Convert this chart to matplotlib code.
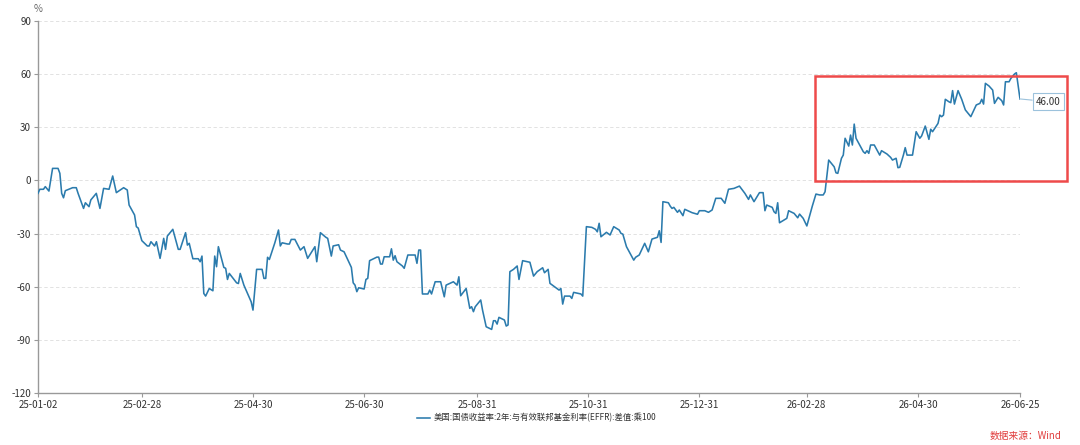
import matplotlib
matplotlib.use("Agg")
import matplotlib.pyplot as plt
import matplotlib.dates as mdates
from matplotlib.patches import Rectangle
import pandas as pd

plt.rcParams['font.family'] = ['Noto Sans CJK SC', 'DejaVu Sans']
plt.rcParams['axes.unicode_minus'] = False

series_name = "美国:国债收益率:2年:与有效联邦基金利率(EFFR):差值:乘100"
source_text = "数据来源：Wind"
unit_label = "%"

dates_2025 = [
    "2025-01-02", "2025-01-03", "2025-01-05", "2025-01-06", "2025-01-08", "2025-01-10",
    "2025-01-13", "2025-01-14", "2025-01-15", "2025-01-16", "2025-01-17", "2025-01-21",
    "2025-01-23", "2025-01-24", "2025-01-27", "2025-01-28", "2025-01-30", "2025-01-31",
    "2025-02-03", "2025-02-05", "2025-02-07", "2025-02-10", "2025-02-12", "2025-02-14",
    "2025-02-18", "2025-02-20", "2025-02-21", "2025-02-24", "2025-02-25", "2025-02-26",
    "2025-02-28", "2025-03-03", "2025-03-04", "2025-03-05", "2025-03-07", "2025-03-08",
    "2025-03-10", "2025-03-12", "2025-03-13", "2025-03-14", "2025-03-17", "2025-03-20",
    "2025-03-21", "2025-03-24", "2025-03-25", "2025-03-26", "2025-03-28", "2025-03-31",
    "2025-04-01", "2025-04-02", "2025-04-03", "2025-04-04", "2025-04-06", "2025-04-08",
    "2025-04-09", "2025-04-10", "2025-04-11", "2025-04-14", "2025-04-15", "2025-04-16",
    "2025-04-17", "2025-04-21", "2025-04-22", "2025-04-23", "2025-04-25", "2025-04-29",
    "2025-04-30", "2025-05-02", "2025-05-05", "2025-05-06", "2025-05-07", "2025-05-08",
    "2025-05-09", "2025-05-12", "2025-05-14", "2025-05-15", "2025-05-16", "2025-05-19",
    "2025-05-20", "2025-05-21", "2025-05-23", "2025-05-26", "2025-05-28", "2025-05-30",
    "2025-06-03", "2025-06-04", "2025-06-06", "2025-06-09", "2025-06-10", "2025-06-12",
    "2025-06-13", "2025-06-16", "2025-06-17", "2025-06-19", "2025-06-23", "2025-06-24",
    "2025-06-25", "2025-06-26", "2025-06-27", "2025-06-30", "2025-07-01", "2025-07-02",
    "2025-07-03", "2025-07-07", "2025-07-08", "2025-07-09", "2025-07-10", "2025-07-11",
    "2025-07-14", "2025-07-15", "2025-07-16", "2025-07-17", "2025-07-18", "2025-07-21",
    "2025-07-22", "2025-07-24", "2025-07-28", "2025-07-29", "2025-07-30", "2025-07-31",
    "2025-08-01", "2025-08-04", "2025-08-05", "2025-08-06", "2025-08-08", "2025-08-11",
    "2025-08-13", "2025-08-14", "2025-08-18", "2025-08-20", "2025-08-21", "2025-08-22",
    "2025-08-25", "2025-08-27", "2025-08-28", "2025-08-29", "2025-08-30", "2025-09-02",
    "2025-09-03", "2025-09-05", "2025-09-08", "2025-09-09", "2025-09-10", "2025-09-11",
    "2025-09-12", "2025-09-15", "2025-09-16", "2025-09-17", "2025-09-18", "2025-09-20",
    "2025-09-22", "2025-09-23", "2025-09-25", "2025-09-29", "2025-10-01", "2025-10-03",
    "2025-10-06", "2025-10-07", "2025-10-09", "2025-10-10", "2025-10-15", "2025-10-16",
    "2025-10-17", "2025-10-18", "2025-10-21", "2025-10-22", "2025-10-23", "2025-10-27",
    "2025-10-28", "2025-10-30", "2025-11-02", "2025-11-04", "2025-11-05", "2025-11-06",
    "2025-11-07", "2025-11-10", "2025-11-12", "2025-11-14", "2025-11-17", "2025-11-18",
    "2025-11-19", "2025-11-21", "2025-11-25", "2025-11-26", "2025-11-28", "2025-12-01",
    "2025-12-03", "2025-12-05", "2025-12-08", "2025-12-09", "2025-12-10", "2025-12-11",
    "2025-12-14", "2025-12-15", "2025-12-16", "2025-12-17", "2025-12-19", "2025-12-20",
    "2025-12-22", "2025-12-23", "2025-12-27", "2025-12-30", "2025-12-31",
]
values_2025 = [
    -7.3, -5.0, -5.0, -3.5, -6.0, 6.8,
    6.8, 4.0, -7.3, -9.8, -5.8, -4.1,
    -4.1, -7.3, -15.8, -12.6, -14.8, -11.0,
    -7.3, -15.8, -4.5, -5.0, 2.5, -6.9,
    -4.1, -5.4, -13.9, -19.5, -26.1, -26.9,
    -34.0, -37.0, -37.0, -34.6, -37.0, -34.6,
    -44.0, -32.7, -38.9, -31.4, -27.6, -38.9,
    -38.9, -29.5, -36.5, -35.5, -44.2, -44.2,
    -45.9, -42.7, -63.8, -65.3, -61.0, -62.3,
    -42.7, -48.7, -37.4, -49.1, -49.6, -55.9,
    -52.5, -57.8, -58.2, -52.5, -59.1, -68.5,
    -73.2, -50.2, -50.2, -55.3, -55.3, -43.4,
    -44.6, -35.2, -28.0, -37.0, -35.2, -35.9,
    -35.9, -33.3, -33.3, -39.3, -37.4, -44.0,
    -37.4, -45.9, -29.5, -32.1, -32.7, -42.7,
    -37.0, -36.3, -39.3, -40.3, -49.1, -57.8,
    -59.1, -62.8, -60.6, -61.3, -55.9, -55.3,
    -45.3, -43.3, -43.3, -47.2, -47.2, -43.1,
    -43.1, -38.6, -45.0, -42.5, -45.9, -48.3,
    -49.6, -42.1, -42.1, -46.8, -39.3, -39.3,
    -64.1, -64.1, -61.9, -64.1, -57.2, -57.2,
    -65.7, -59.1, -57.2, -59.1, -54.4, -65.1,
    -61.0, -72.2, -71.3, -74.1, -71.3, -67.5,
    -73.2, -82.6, -84.1, -79.2, -79.2, -81.1,
    -77.3, -78.8, -82.2, -81.6, -51.5, -50.2,
    -48.3, -55.9, -45.3, -46.2, -54.0, -51.5,
    -49.3, -52.1, -50.2, -58.1, -61.9, -61.0,
    -69.8, -65.3, -65.3, -66.6, -63.2, -64.1,
    -65.3, -26.1, -26.5, -27.6, -29.0, -24.2,
    -31.8, -29.3, -30.8, -26.1, -28.0, -29.9,
    -30.3, -37.4, -45.0, -43.4, -42.1, -35.5,
    -40.3, -33.1, -32.1, -28.4, -35.0, -12.0,
    -12.6, -14.5, -15.8, -15.2, -18.0, -16.7,
    -19.9, -16.3, -18.2, -19.1, -17.1,
]

dates_2026 = [
    "2026-01-03", "2026-01-05", "2026-01-07", "2026-01-09", "2026-01-12", "2026-01-14",
    "2026-01-16", "2026-01-19", "2026-01-22", "2026-01-25", "2026-01-27", "2026-01-28",
    "2026-01-30", "2026-02-02", "2026-02-04", "2026-02-05", "2026-02-06", "2026-02-09",
    "2026-02-10", "2026-02-11", "2026-02-12", "2026-02-13", "2026-02-17", "2026-02-18",
    "2026-02-21", "2026-02-23", "2026-02-24", "2026-02-26", "2026-02-28", "2026-03-03",
    "2026-03-05", "2026-03-07", "2026-03-09", "2026-03-10", "2026-03-12", "2026-03-15",
    "2026-03-16", "2026-03-17", "2026-03-19", "2026-03-20", "2026-03-21", "2026-03-23",
    "2026-03-24", "2026-03-25", "2026-03-26", "2026-03-27", "2026-03-31", "2026-04-01",
    "2026-04-02", "2026-04-03", "2026-04-04", "2026-04-06", "2026-04-09", "2026-04-10",
    "2026-04-13", "2026-04-15", "2026-04-16", "2026-04-18", "2026-04-19", "2026-04-20",
    "2026-04-22", "2026-04-23", "2026-04-24", "2026-04-27", "2026-04-29", "2026-05-01",
    "2026-05-02", "2026-05-04", "2026-05-06", "2026-05-07", "2026-05-08", "2026-05-11",
    "2026-05-12", "2026-05-13", "2026-05-14", "2026-05-15", "2026-05-17", "2026-05-18",
    "2026-05-19", "2026-05-20", "2026-05-22", "2026-05-24", "2026-05-26", "2026-05-29",
    "2026-06-01", "2026-06-03", "2026-06-04", "2026-06-05", "2026-06-06", "2026-06-08",
    "2026-06-10", "2026-06-11", "2026-06-13", "2026-06-15", "2026-06-16", "2026-06-17",
    "2026-06-19", "2026-06-20", "2026-06-22", "2026-06-23", "2026-06-25",
]
values_2026 = [
    -17.1, -18.0, -16.7, -10.1, -10.1, -12.9,
    -5.0, -4.5, -3.2, -7.3, -10.7, -8.2,
    -12.0, -6.9, -6.9, -17.1, -13.9, -15.2,
    -17.7, -18.6, -12.6, -23.9, -21.4, -17.1,
    -18.6, -21.1, -19.0, -21.4, -25.7, -14.5,
    -7.7, -8.2, -8.2, -6.4, 11.5, 7.7,
    4.3, 4.0, 12.5, 14.3, 23.8, 19.4,
    25.6, 20.0, 31.8, 23.8, 16.2, 15.3,
    16.8, 15.3, 20.0, 20.0, 14.3, 16.8,
    14.9, 13.0, 11.5, 12.5, 7.2, 7.4,
    14.3, 18.5, 14.3, 14.3, 27.5, 23.8,
    25.1, 30.7, 23.2, 28.9, 27.5, 32.2,
    36.9, 36.0, 36.9, 45.8, 44.4, 43.9,
    50.7, 43.1, 50.7, 45.8, 39.8, 36.0,
    42.6, 43.5, 45.8, 43.1, 54.8, 53.3,
    51.0, 43.5, 46.9, 45.0, 42.6, 55.7,
    55.7, 57.6, 60.1, 60.8, 46.0,
]

x_ticks = ["2025-01-02", "2025-02-28", "2025-04-30", "2025-06-30", "2025-08-31",
           "2025-10-31", "2025-12-31", "2026-02-28", "2026-04-30", "2026-06-25"]
y_ticks = [-120, -90, -60, -30, 0, 30, 60, 90]
last_label = "46.00"

dates = pd.to_datetime(dates_2025 + dates_2026)
values = values_2025 + values_2026

W, H = 1080, 445
fig = plt.figure(figsize=(W / 100, H / 100), dpi=100)
ax = fig.add_axes([38 / W, 1 - 393 / H, (1020 - 38) / W, (393 - 21) / H])

line_color = "#2b7bad"
ax.plot(dates, values, color=line_color, lw=1.15, label=series_name, zorder=3)

xt = pd.to_datetime(x_ticks)
ax.set_xlim(xt[0], xt[-1])
ax.set_ylim(y_ticks[0], y_ticks[-1])
ax.set_xticks(xt)
ax.set_xticklabels([d.strftime("%y-%m-%d") for d in xt])
ax.set_yticks(y_ticks)

for s in ["top", "right"]:
    ax.spines[s].set_visible(False)
for s in ["left", "bottom"]:
    ax.spines[s].set_color("#999999")
    ax.spines[s].set_linewidth(1.0)

ax.tick_params(axis="both", direction="out", length=3, width=0.8, color="#999999",
               labelsize=7, labelcolor="#333333", pad=2)
ax.grid(axis="y", color="#dddddd", linestyle=(0, (4, 3)), linewidth=0.6)
ax.grid(axis="x", visible=False)
ax.set_axisbelow(True)

ax.text(0.0, 1.02, unit_label, transform=ax.transAxes, fontsize=7, color="#666666",
        ha="center", va="bottom")

# last value callout
ax.annotate(last_label, xy=(dates[-1], values[-1]), xytext=(11.5, -2), textcoords="offset points",
            fontsize=7, color="#333333", ha="left", va="center", annotation_clip=False,
            bbox=dict(boxstyle="square,pad=0.35", fc="white", ec="#9cc2dc", lw=0.8),
            arrowprops=dict(arrowstyle="-", color="#9cc2dc", lw=0.8, shrinkA=0, shrinkB=0),
            zorder=5)

# red highlight box
fig.patches.append(Rectangle((815 / W, 1 - 181 / H), (1066.7 - 815) / W, (181 - 75.7) / H,
                             transform=fig.transFigure, fill=False, ec="#ee4a4a", lw=1.8,
                             zorder=6))

fig.legend(loc="center", bbox_to_anchor=(0.497, 1 - 418 / H), frameon=False, fontsize=6.0,
           handlelength=1.6, handletextpad=0.4, labelcolor="#333333")

fig.text(1062 / W, 1 - 436 / H, source_text, color="#e03c3c", fontsize=7,
         ha="right", va="center")

fig.savefig("out.png", dpi=100)
